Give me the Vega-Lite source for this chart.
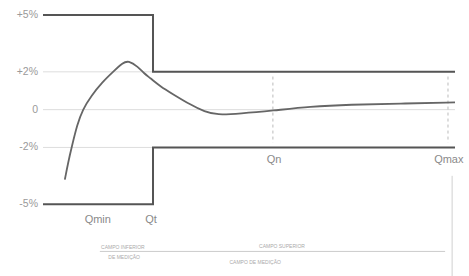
{
  "$schema": "https://vega.github.io/schema/vega-lite/v6.json",
  "width": 412,
  "height": 276,
  "autosize": {"type": "none"},
  "padding": {"left": 43, "top": 0, "right": 14, "bottom": 0},
  "background": "white",
  "config": {"view": {"stroke": null}, "font": "Liberation Sans"},
  "layer": [
    {
      "data": {"values": [{"v": 2}, {"v": 0}, {"v": -2}]},
      "mark": {"type": "rule", "color": "#dddddd", "strokeWidth": 1},
      "encoding": {
        "y": {"field": "v", "type": "quantitative", "scale": {"domain": [-8.8, 5.8], "nice": false, "zero": false}, "axis": null},
        "x": {"datum": 0, "type": "quantitative", "scale": {"domain": [0, 100], "nice": false}, "axis": null},
        "x2": {"datum": 100}
      }
    },
    {
      "data": {"values": [{"q": 55.8, "a": 1.75, "b": -1.75}, {"q": 98.3, "a": 1.75, "b": -1.75}]},
      "mark": {"type": "rule", "color": "#bbbbbb", "strokeWidth": 1, "strokeDash": [3, 3]},
      "encoding": {
        "x": {"field": "q", "type": "quantitative", "scale": {"domain": [0, 100], "nice": false}, "axis": null},
        "y": {"field": "a", "type": "quantitative", "scale": {"domain": [-8.8, 5.8], "nice": false, "zero": false}, "axis": null},
        "y2": {"field": "b"}
      }
    },
    {
      "data": {"values": [{"q": 99.3, "a": -3.5, "b": -8.8}]},
      "mark": {"type": "rule", "color": "#d0d0d0", "strokeWidth": 1},
      "encoding": {
        "x": {"field": "q", "type": "quantitative", "scale": {"domain": [0, 100], "nice": false}, "axis": null},
        "y": {"field": "a", "type": "quantitative", "scale": {"domain": [-8.8, 5.8], "nice": false, "zero": false}, "axis": null},
        "y2": {"field": "b"}
      }
    },
    {
      "data": {"values": [{"x1": 13.8, "x2": 97.6, "v": -7.5}]},
      "mark": {"type": "rule", "color": "#cccccc", "strokeWidth": 1},
      "encoding": {
        "x": {"field": "x1", "type": "quantitative", "scale": {"domain": [0, 100], "nice": false}, "axis": null},
        "x2": {"field": "x2"},
        "y": {"field": "v", "type": "quantitative", "scale": {"domain": [-8.8, 5.8], "nice": false, "zero": false}, "axis": null}
      }
    },
    {
      "data": {"values": [
        {"lim": "upper", "i": 0, "x": 0, "v": 5},
        {"lim": "upper", "i": 1, "x": 26.7, "v": 5},
        {"lim": "upper", "i": 2, "x": 26.7, "v": 2},
        {"lim": "upper", "i": 3, "x": 100, "v": 2},
        {"lim": "lower", "i": 0, "x": 0, "v": -5},
        {"lim": "lower", "i": 1, "x": 26.7, "v": -5},
        {"lim": "lower", "i": 2, "x": 26.7, "v": -2},
        {"lim": "lower", "i": 3, "x": 100, "v": -2}
      ]},
      "mark": {"type": "line", "color": "#555555", "strokeWidth": 2},
      "encoding": {
        "x": {"field": "x", "type": "quantitative", "scale": {"domain": [0, 100], "nice": false}, "axis": null},
        "y": {"field": "v", "type": "quantitative", "scale": {"domain": [-8.8, 5.8], "nice": false, "zero": false}, "axis": null},
        "detail": {"field": "lim"},
        "order": {"field": "i"}
      }
    },
    {
      "data": {"values": [
        {"x": 5.3, "v": -3.7},
        {"x": 6.1, "v": -2.8},
        {"x": 7.0, "v": -1.95},
        {"x": 8.3, "v": -0.8},
        {"x": 9.6, "v": 0.0},
        {"x": 11.8, "v": 0.75},
        {"x": 14.2, "v": 1.41},
        {"x": 17.1, "v": 2.02},
        {"x": 19.4, "v": 2.48},
        {"x": 20.7, "v": 2.6},
        {"x": 23.1, "v": 2.26},
        {"x": 24.5, "v": 1.92},
        {"x": 26.0, "v": 1.68},
        {"x": 28.4, "v": 1.24},
        {"x": 31.6, "v": 0.81},
        {"x": 35.7, "v": 0.27},
        {"x": 39.3, "v": -0.12},
        {"x": 42.2, "v": -0.28},
        {"x": 47.8, "v": -0.21},
        {"x": 55.8, "v": -0.05},
        {"x": 64.8, "v": 0.16},
        {"x": 74.5, "v": 0.27},
        {"x": 86.7, "v": 0.32},
        {"x": 100, "v": 0.38}
      ]},
      "mark": {"type": "line", "color": "#666666", "strokeWidth": 1.8, "interpolate": "basis"},
      "encoding": {
        "x": {"field": "x", "type": "quantitative", "scale": {"domain": [0, 100], "nice": false}, "axis": null},
        "y": {"field": "v", "type": "quantitative", "scale": {"domain": [-8.8, 5.8], "nice": false, "zero": false}, "axis": null}
      }
    },
    {
      "data": {"values": [
        {"t": "+5%", "v": 5},
        {"t": "+2%", "v": 2},
        {"t": "0", "v": 0},
        {"t": "-2%", "v": -2},
        {"t": "-5%", "v": -5}
      ]},
      "mark": {"type": "text", "color": "#9a9a9a", "fontSize": 10.5, "font": "Liberation Sans", "align": "right", "baseline": "middle", "dx": -5},
      "encoding": {
        "x": {"datum": 0, "type": "quantitative", "scale": {"domain": [0, 100], "nice": false}, "axis": null},
        "y": {"field": "v", "type": "quantitative", "scale": {"domain": [-8.8, 5.8], "nice": false, "zero": false}, "axis": null},
        "text": {"field": "t"}
      }
    },
    {
      "data": {"values": [
        {"t": "Qmin", "x": 13.3, "v": -5.85},
        {"t": "Qt", "x": 26.2, "v": -5.85},
        {"t": "Qn", "x": 56.1, "v": -2.67},
        {"t": "Qmax", "x": 98.5, "v": -2.67}
      ]},
      "mark": {"type": "text", "color": "#8a8a8a", "fontSize": 11, "font": "Liberation Sans", "align": "center", "baseline": "middle"},
      "encoding": {
        "x": {"field": "x", "type": "quantitative", "scale": {"domain": [0, 100], "nice": false}, "axis": null},
        "y": {"field": "v", "type": "quantitative", "scale": {"domain": [-8.8, 5.8], "nice": false, "zero": false}, "axis": null},
        "text": {"field": "t"}
      }
    },
    {
      "data": {"values": [
        {"t": "CAMPO INFERIOR", "x": 19.4, "v": -7.25},
        {"t": "DE MEDIÇÃO", "x": 19.7, "v": -7.8},
        {"t": "CAMPO SUPERIOR", "x": 58.0, "v": -7.22},
        {"t": "CAMPO DE MEDIÇÃO", "x": 51.5, "v": -8.07}
      ]},
      "mark": {"type": "text", "color": "#aaaaaa", "fontSize": 5, "font": "Liberation Sans", "align": "center", "baseline": "middle"},
      "encoding": {
        "x": {"field": "x", "type": "quantitative", "scale": {"domain": [0, 100], "nice": false}, "axis": null},
        "y": {"field": "v", "type": "quantitative", "scale": {"domain": [-8.8, 5.8], "nice": false, "zero": false}, "axis": null},
        "text": {"field": "t"}
      }
    }
  ]
}
